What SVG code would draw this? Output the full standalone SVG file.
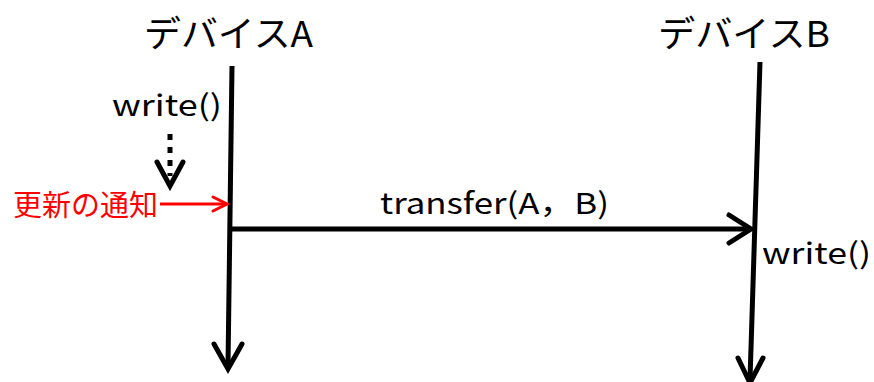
<svg xmlns="http://www.w3.org/2000/svg" width="874" height="382" viewBox="0 0 874 382">
  <style>
    .lbl { font-family: "Noto Sans CJK JP", "Open Sans", sans-serif; fill: #000; }
    .ttl { font-size: 36px; }
    .fn { font-size: 29px; }
    .red { fill: #ff0000; font-size: 29px; }
    .ln { fill: none; stroke: #000; stroke-width: 5; stroke-linecap: butt; }
    .hd { fill: none; stroke: #000; stroke-width: 5; stroke-linecap: round; stroke-linejoin: miter; }
    .rln { fill: none; stroke: #ff0000; stroke-width: 3; }
    .rhd { fill: none; stroke: #ff0000; stroke-width: 3; stroke-linecap: round; }
  </style>
  <rect width="874" height="382" fill="#fff"/>

  <g id="deviceA">
    <text class="lbl ttl" x="144" y="47" textLength="169" lengthAdjust="spacingAndGlyphs">デバイスA</text>
  </g>
  <g id="deviceB">
    <text class="lbl ttl" x="658" y="47" textLength="172" lengthAdjust="spacingAndGlyphs">デバイスB</text>
  </g>
  <g id="writeA">
    <text class="lbl fn" x="112" y="116" textLength="110" lengthAdjust="spacingAndGlyphs">write()</text>
  </g>
  <g id="notify">
    <text class="lbl red" x="13" y="216" textLength="145" lengthAdjust="spacingAndGlyphs">更新の通知</text>
  </g>
  <g id="transfer">
    <text class="lbl fn" x="380" y="214" textLength="229" lengthAdjust="spacingAndGlyphs">transfer(A，B)</text>
  </g>
  <g id="writeB">
    <text class="lbl fn" x="762" y="264" textLength="109" lengthAdjust="spacingAndGlyphs">write()</text>
  </g>

  <g id="connectors">
    <!-- lifeline A -->
    <path class="ln" d="M232,66 L228,366"/>
    <path class="hd" d="M214,344 L228,369 L242,344"/>
    <!-- lifeline B -->
    <path class="ln" d="M760,62 L750,380"/>
    <path class="hd" d="M738,358 L750,383 L763,358"/>
    <!-- transfer message -->
    <path class="ln" d="M231,229 L749,229"/>
    <path class="hd" d="M729,215 L751,229 L729,243"/>
    <!-- update notification -->
    <path class="rln" d="M160,204 L226,204"/>
    <path class="rhd" d="M213,197 L227,204 L213,211"/>
    <!-- dotted write flow -->
    <path class="ln" d="M170,134 L170,176" stroke-dasharray="6,7"/>
    <path class="hd" d="M157,162 L170,186 L183,162"/>
  </g>
</svg>
